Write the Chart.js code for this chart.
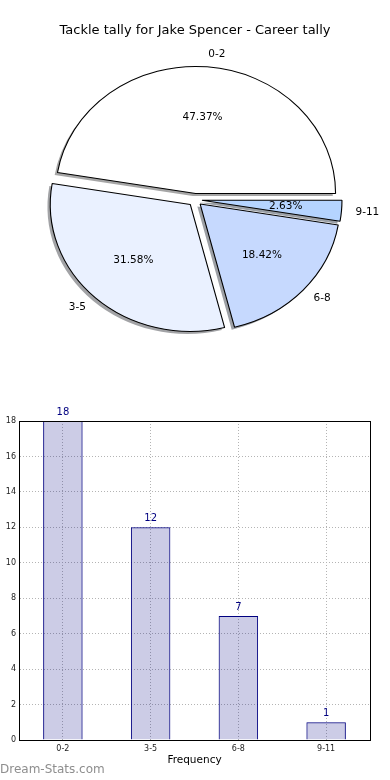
<!DOCTYPE html>
<html>
<head>
<meta charset="utf-8">
<script src="https://cdn.jsdelivr.net/npm/chart.js@4"></script>
<style>
  html, body { margin: 0; padding: 0; background: #fff; }
  body { width: 390px; height: 780px; position: relative; overflow: hidden; font-family: "DejaVu Sans", sans-serif; }
  #pie { position: absolute; left: 0; top: 0; }
  #bars { position: absolute; left: 0; top: 400px; }
  #mark { position: absolute; left: 0; top: 762px; font-size: 12px; color: #8e8e8e; white-space: nowrap; }
</style>
</head>
<body>
<canvas id="pie" width="390" height="400"></canvas>
<canvas id="bars" width="390" height="380"></canvas>
<div id="mark">Dream-Stats.com</div>

<script>
const FONT = '"DejaVu Sans", sans-serif'
const TITLE = 'Tackle tally for Jake Spencer - Career tally'

const categories = ['0-2', '3-5', '6-8', '9-11']
const counts = [18, 12, 7, 1]
const sliceColors = ['#ffffff', '#eaf1ff', '#c6d9fe', '#b5d4ff']
const yTicks = [0, 2, 4, 6, 8, 10, 12, 14, 16, 18]

const total = counts.reduce((a, b) => a + b, 0)

// chart.js pies run clockwise from the start angle, matplotlib counter-clockwise,
// so feed the slices in reverse
const pieLabels = [...categories].reverse()
const pieCounts = [...counts].reverse()
const pieColors = [...sliceColors].reverse()

const SX = 140 / 127      // pie is squashed into an ellipse
const EXPLODE = 0.05
const SHADOW = { dx: -2.8, dy: 2.54 }


// ── Pie ──────────────────────────────────────────────────────────────────────

function shade(hex) {
    const n = parseInt(hex.slice(1), 16)
    const r = Math.round(((n >> 16) & 255) * 0.3)
    const g = Math.round(((n >> 8) & 255) * 0.3)
    const b = Math.round((n & 255) * 0.3)
    return `rgba(${r},${g},${b},0.5)`
}

const pieLook = {
    id: 'pieLook',
    beforeDatasetsDraw(chart) {
        const ctx = chart.ctx
        const arcs = chart.getDatasetMeta(0).data
        const pass = shadow => arcs.forEach(arc => {
            const mid = (arc.startAngle + arc.endAngle) / 2
            const d = EXPLODE * arc.outerRadius
            ctx.save()
            if (shadow) ctx.translate(SHADOW.dx, SHADOW.dy)
            ctx.translate(arc.x, arc.y)
            ctx.scale(SX, 1)
            ctx.translate(Math.cos(mid) * d - arc.x, Math.sin(mid) * d - arc.y)
            if (shadow) {
                const o = arc.options
                arc.options = Object.assign({}, o, { backgroundColor: shade(o.backgroundColor), borderWidth: 0 })
                arc.draw(ctx)
                arc.options = o
            } else {
                arc.draw(ctx)
            }
            ctx.restore()
        })
        pass(true)
        pass(false)
        return false
    },
    afterDraw(chart) {
        const ctx = chart.ctx
        const arcs = chart.getDatasetMeta(0).data
        ctx.save()
        ctx.font = `10.5px ${FONT}`
        ctx.fillStyle = '#000'
        ctx.textBaseline = 'middle'
        arcs.forEach((arc, i) => {
            const mid = (arc.startAngle + arc.endAngle) / 2
            const c = Math.cos(mid), s = Math.sin(mid)
            const R = arc.outerRadius
            const at = k => [arc.x + SX * k * R * c, arc.y + k * R * s]

            let [lx, ly] = at(EXPLODE + 1.1)
            ctx.textAlign = c > 0 ? 'left' : 'right'
            ctx.fillText(pieLabels[i], lx, ly)

            let [px, py] = at(EXPLODE + 0.6)
            ctx.textAlign = 'center'
            ctx.fillText((pieCounts[i] / total * 100).toFixed(2) + '%', px, py)
        })
        ctx.restore()
    }
}

new Chart(document.getElementById('pie'), {
    type: 'pie',
    data: {
        labels: pieLabels,
        datasets: [{
            data: pieCounts,
            backgroundColor: pieColors,
            borderColor: '#000',
            borderWidth: 1,
        }]
    },
    options: {
        responsive: false,
        animation: false,
        rotation: 90,
        radius: 127,
        layout: { padding: { bottom: 38.6 } },
        plugins: {
            legend: { display: false },
            tooltip: { enabled: false },
            title: {
                display: true,
                text: TITLE,
                color: '#000',
                font: { family: FONT, size: 13, weight: 'normal' },
                padding: { top: 22.5, bottom: 0 }
            }
        }
    },
    plugins: [pieLook]
})


// ── Bars ─────────────────────────────────────────────────────────────────────

const barLook = {
    id: 'barLook',
    afterDatasetsDraw(chart) {
        const ctx = chart.ctx
        ctx.save()
        ctx.font = `10px ${FONT}`
        ctx.fillStyle = '#000080'
        ctx.textAlign = 'center'
        ctx.textBaseline = 'middle'
        chart.getDatasetMeta(0).data.forEach((bar, i) => {
            ctx.fillText(String(counts[i]), bar.x, bar.y - 9)
        })
        ctx.restore()
    },
    afterDraw(chart) {
        const { left, top, right, bottom } = chart.chartArea
        const ctx = chart.ctx
        ctx.save()
        ctx.strokeStyle = '#000'
        ctx.lineWidth = 1
        ctx.strokeRect(Math.round(left) + 0.5, Math.round(top) + 0.5, Math.round(right - left), Math.round(bottom - top))
        ctx.restore()
    }
}

new Chart(document.getElementById('bars'), {
    type: 'bar',
    data: {
        labels: categories,
        datasets: [{
            data: counts,
            backgroundColor: 'rgba(0,0,128,0.2)',
            borderColor: '#000080',
            borderWidth: 1,
            categoryPercentage: 1,
            barPercentage: 0.45,
        }]
    },
    options: {
        responsive: false,
        animation: false,
        layout: { padding: { top: 21, right: 20, left: 0, bottom: 0 } },
        plugins: { legend: { display: false }, tooltip: { enabled: false } },
        scales: {
            x: {
                grid: { offset: false, color: '#b4b4b4', lineWidth: 1, drawTicks: false },
                border: { color: '#000', dash: [1, 2] },
                ticks: { color: '#222', font: { family: FONT, size: 8 }, padding: 4 },
                title: {
                    display: true, text: 'Frequency', color: '#000',
                    font: { family: FONT, size: 10.5 }, padding: { top: 0, bottom: 13 }
                },
                afterFit: s => { s.height = 40 }
            },
            y: {
                min: 0, max: 18,
                afterBuildTicks: s => { s.ticks = yTicks.map(v => ({ value: v })) },
                grid: { color: '#b4b4b4', lineWidth: 1, drawTicks: false },
                border: { color: '#000', dash: [1, 2] },
                ticks: { color: '#222', font: { family: FONT, size: 8 }, padding: 3 },
                afterFit: s => { s.width = 19 }
            }
        }
    },
    plugins: [barLook]
})
</script>
</body>
</html>
